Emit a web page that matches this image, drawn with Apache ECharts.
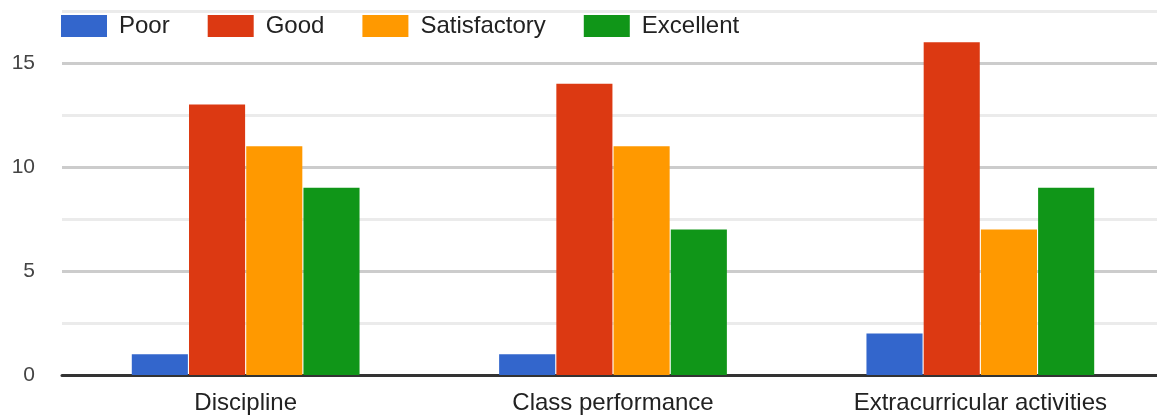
<!DOCTYPE html>
<html><head><meta charset="utf-8">
<script src="https://cdn.jsdelivr.net/npm/echarts@6/dist/echarts.min.js"></script>
<style>html,body{margin:0;padding:0;background:#fff;overflow:hidden}#c{width:1164px;height:417px}</style>
</head><body><div id="c"></div>
<script>
const categories = ['Discipline', 'Class performance', 'Extracurricular activities'];
const seriesNames = ['Poor', 'Good', 'Satisfactory', 'Excellent'];
const poor = [1, 1, 2];
const good = [13, 14, 16];
const satisfactory = [11, 11, 7];
const excellent = [9, 7, 9];
const colors = ['#3366cc', '#dc3912', '#ff9900', '#109618'];
const values = [poor, good, satisfactory, excellent];
const font = 'Arial, "Liberation Sans", sans-serif';

const chart = echarts.init(document.getElementById('c'));
chart.setOption({
  animation: false,
  color: colors,
  textStyle: { fontFamily: font },
  legend: {
    left: 61, top: 14, padding: 0,
    itemWidth: 46, itemHeight: 22, itemGap: 38,
    icon: 'rect',
    textStyle: { fontSize: 24, color: '#222', fontFamily: font, padding: [0, 0, 0, 7] },
    data: seriesNames
  },
  grid: { left: 62, right: 0, top: 11, bottom: 42, containLabel: false },
  xAxis: {
    type: 'category', data: categories,
    axisLine: { lineStyle: { color: '#333', width: 3 } },
    axisTick: { show: false },
    axisLabel: { fontSize: 24, color: '#222', margin: 16, fontFamily: font }
  },
  yAxis: {
    type: 'value', min: 0, max: 17.5, interval: 2.5,
    axisLine: { show: false }, axisTick: { show: false },
    axisLabel: {
      fontSize: 21, color: '#444', margin: 27, fontFamily: font,
      formatter: v => (v % 5 === 0 ? String(v) : '')
    },
    splitLine: { lineStyle: { color: ['#cccccc', '#ebebeb'], width: 3 } }
  },
  series: seriesNames.map((n, i) => ({
    name: n, type: 'bar', data: values[i],
    barGap: '2%', barCategoryGap: '38%'
  }))
});
</script></body></html>
